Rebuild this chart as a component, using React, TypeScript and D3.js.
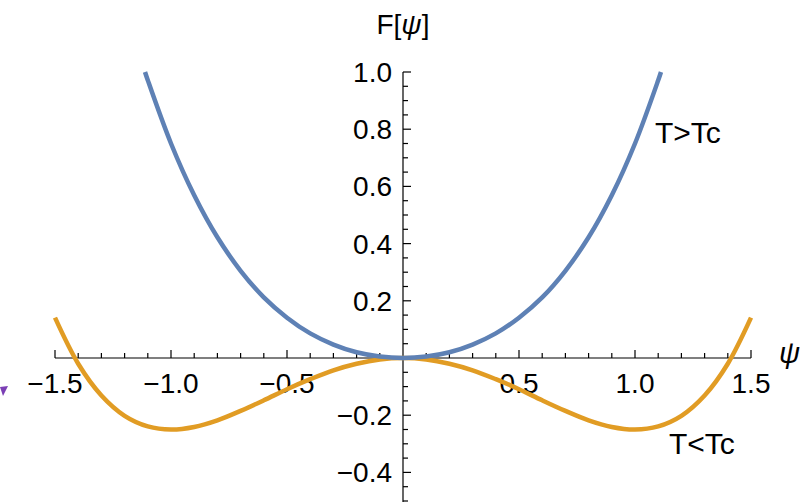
import { useEffect, useRef } from 'react'
import * as d3 from 'd3'

const psiBelow = [-1.5, -1.4, -1.3, -1.2, -1.1, -1.0, -0.9, -0.8, -0.7, -0.6, -0.5, -0.4, -0.3, -0.2, -0.1, 0,
  0.1, 0.2, 0.3, 0.4, 0.5, 0.6, 0.7, 0.8, 0.9, 1.0, 1.1, 1.2, 1.3, 1.4, 1.5]
const fBelow = [0.141, -0.02, -0.131, -0.202, -0.239, -0.25, -0.241, -0.218, -0.185, -0.148, -0.109, -0.074, -0.043, -0.02, -0.005, 0,
  -0.005, -0.02, -0.043, -0.074, -0.109, -0.148, -0.185, -0.218, -0.241, -0.25, -0.239, -0.202, -0.131, -0.02, 0.141]

const psiAbove = [-1.112, -1.1, -1.0, -0.9, -0.8, -0.7, -0.6, -0.5, -0.4, -0.3, -0.2, -0.1, 0,
  0.1, 0.2, 0.3, 0.4, 0.5, 0.6, 0.7, 0.8, 0.9, 1.0, 1.1, 1.112]
const fAbove = [1.0, 0.971, 0.75, 0.569, 0.422, 0.305, 0.212, 0.141, 0.086, 0.047, 0.02, 0.005, 0,
  0.005, 0.02, 0.047, 0.086, 0.141, 0.212, 0.305, 0.422, 0.569, 0.75, 0.971, 1.0]

const xTicks = [-1.5, -1.0, -0.5, 0.5, 1.0, 1.5]
const yTicks = [1.0, 0.8, 0.6, 0.4, 0.2, -0.2, -0.4]

const BLUE = '#5E81B5'
const ORANGE = '#E19C24'
const FONT = '"Liberation Sans", Arial, Helvetica, sans-serif'

const fmt = (d: number) => (d < 0 ? '\u2212' : '') + Math.abs(d).toFixed(1)

export default function App() {
  const svgRef = useRef<SVGSVGElement>(null)

  useEffect(() => {
    if (!svgRef.current) return
    const svg = d3.select(svgRef.current)
    svg.selectAll('*').remove()

    const x = d3.scaleLinear().domain([-1.5, 1.5]).range([55, 751])
    const y = d3.scaleLinear().domain([-0.5, 1.0]).range([501, 72])
    const x0 = x(0)
    const y0 = y(0)

    const line = d3.line<[number, number]>()
      .x((d) => x(d[0]))
      .y((d) => y(d[1]))
      .curve(d3.curveCatmullRom.alpha(0.5))

    // axes
    const ax = svg.append('g').attr('stroke', '#000').attr('stroke-width', 1.2)
    ax.append('line').attr('x1', x(-1.5)).attr('x2', x(1.5)).attr('y1', y0).attr('y2', y0)
    ax.append('line').attr('x1', x0).attr('x2', x0).attr('y1', y(1.0)).attr('y2', 502)

    // x ticks (pointing up), minor every 0.1
    d3.range(-15, 16).forEach((i) => {
      if (i === 0) return
      const major = i % 5 === 0
      ax.append('line')
        .attr('x1', x(i / 10)).attr('x2', x(i / 10))
        .attr('y1', y0).attr('y2', y0 - (major ? 8 : 5))
    })
    // y ticks (pointing right), minor every 0.05
    d3.range(-10, 21).forEach((i) => {
      if (i === 0) return
      const major = i % 4 === 0
      ax.append('line')
        .attr('x1', x0).attr('x2', x0 + (major ? 8 : 5))
        .attr('y1', y(i / 20)).attr('y2', y(i / 20))
    })

    svg.append('g')
      .selectAll('text')
      .data(xTicks)
      .join('text')
      .attr('x', (d) => x(d))
      .attr('y', y0 + 35)
      .attr('text-anchor', 'middle')
      .attr('font-family', FONT)
      .attr('font-size', 28)
      .text(fmt)

    svg.append('g')
      .selectAll('text')
      .data(yTicks)
      .join('text')
      .attr('x', x0 - 11)
      .attr('y', (d) => y(d))
      .attr('dy', '0.36em')
      .attr('text-anchor', 'end')
      .attr('font-family', FONT)
      .attr('font-size', 28)
      .text(fmt)

    // curves
    svg.append('path')
      .datum(psiBelow.map((p, i) => [p, fBelow[i]] as [number, number]))
      .attr('d', line)
      .attr('fill', 'none')
      .attr('stroke', ORANGE)
      .attr('stroke-width', 4.5)

    svg.append('path')
      .datum(psiAbove.map((p, i) => [p, fAbove[i]] as [number, number]))
      .attr('d', line)
      .attr('fill', 'none')
      .attr('stroke', BLUE)
      .attr('stroke-width', 4.5)

    // axis labels
    const fLabel = svg.append('text')
      .attr('x', x0)
      .attr('y', 34)
      .attr('text-anchor', 'middle')
      .attr('font-family', FONT)
      .attr('font-size', 28)
    fLabel.append('tspan').text('F[')
    fLabel.append('tspan').attr('font-style', 'italic').text('\u03C8')
    fLabel.append('tspan').text(']')

    svg.append('text')
      .attr('x', 779)
      .attr('y', y0 + 5)
      .attr('font-family', FONT)
      .attr('font-style', 'italic')
      .attr('font-size', 29)
      .text('\u03C8')

    svg.append('text')
      .attr('x', 655)
      .attr('y', 143)
      .attr('font-family', FONT)
      .attr('font-size', 30)
      .text('T>Tc')

    svg.append('text')
      .attr('x', 669)
      .attr('y', 454)
      .attr('font-family', FONT)
      .attr('font-size', 30)
      .text('T<Tc')

    // clipped purple fragment at the left edge
    svg.append('path')
      .attr('d', 'M0,387 L8,386 L3,396 Z')
      .attr('fill', '#7B3FB5')
  }, [])

  return (
    <svg
      ref={svgRef}
      width={800}
      height={502}
      style={{ position: 'fixed', left: 0, top: 0, background: '#fff' }}
    />
  )
}
